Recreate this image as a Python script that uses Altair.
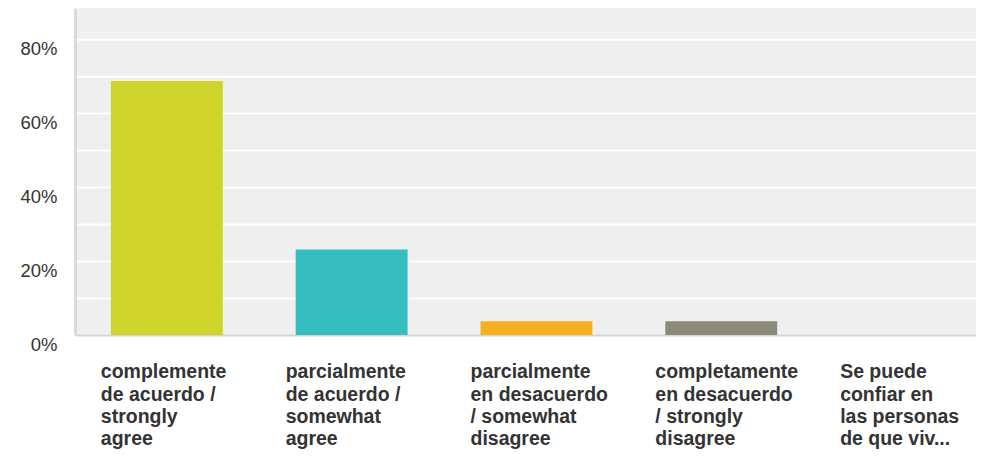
import altair as alt
import pandas as pd

categories = [
    "complemente|de acuerdo /|strongly|agree",
    "parcialmente|de acuerdo /|somewhat|agree",
    "parcialmente|en desacuerdo|/ somewhat|disagree",
    "completamente|en desacuerdo|/ strongly|disagree",
    "Se puede|confiar en|las personas|de que viv...",
]
values = [0.686, 0.231, 0.037, 0.037, 0.0]
colors = ["#cfd42b", "#35bdbf", "#f7b020", "#8b8a79", "#e06f4c"]
y_ticks = [0.0, 0.1, 0.2, 0.3, 0.4, 0.5, 0.6, 0.7, 0.8]

df = pd.DataFrame({"cat": categories, "val": values})

chart = (
    alt.Chart(df)
    .mark_bar()
    .encode(
        x=alt.X(
            "cat:N",
            sort=categories,
            title=None,
            scale=alt.Scale(paddingInner=0.3946, paddingOuter=0.135, align=0.72),
            axis=alt.Axis(
                labelAngle=0,
                labelAlign="left",
                labelBaseline="top",
                labelOffset=-66,
                labelPadding=28,
                labelFont="Liberation Sans",
                labelFontSize=19.5,
                labelFontWeight="bold",
                labelColor="#333333",
                labelLineHeight=22.3,
                labelLimit=0,
                labelOverlap=False,
                labelExpr="split(datum.label, '|')",
                ticks=False,
                domainColor="#d4d4d4",
                domainWidth=2,
                grid=False,
            ),
        ),
        y=alt.Y(
            "val:Q",
            title=None,
            scale=alt.Scale(domain=[0, 0.883], nice=False, zero=True),
            axis=alt.Axis(
                values=y_ticks,
                labelExpr="round(datum.value*100) % 20 == 0 ? format(datum.value, '.0%') : ''",
                labelFont="Liberation Sans",
                labelFontSize=18.5,
                labelColor="#333333",
                labelPadding=18,
                labelOffset=10,
                ticks=False,
                grid=True,
                gridColor="#ffffff",
                gridWidth=2,
                domainColor="#d9d9d9",
                domainWidth=3,
            ),
        ),
        color=alt.Color("cat:N", scale=alt.Scale(domain=categories, range=colors), legend=None),
    )
    .properties(
        width=902,
        height=327,
        padding={"left": 11, "top": 0, "right": 0, "bottom": 0},
        background="#ffffff",
    )
    .configure_view(fill="#efefef", stroke=None)
)

chart.save("out.html", embed_options={"renderer": "svg", "actions": False})
